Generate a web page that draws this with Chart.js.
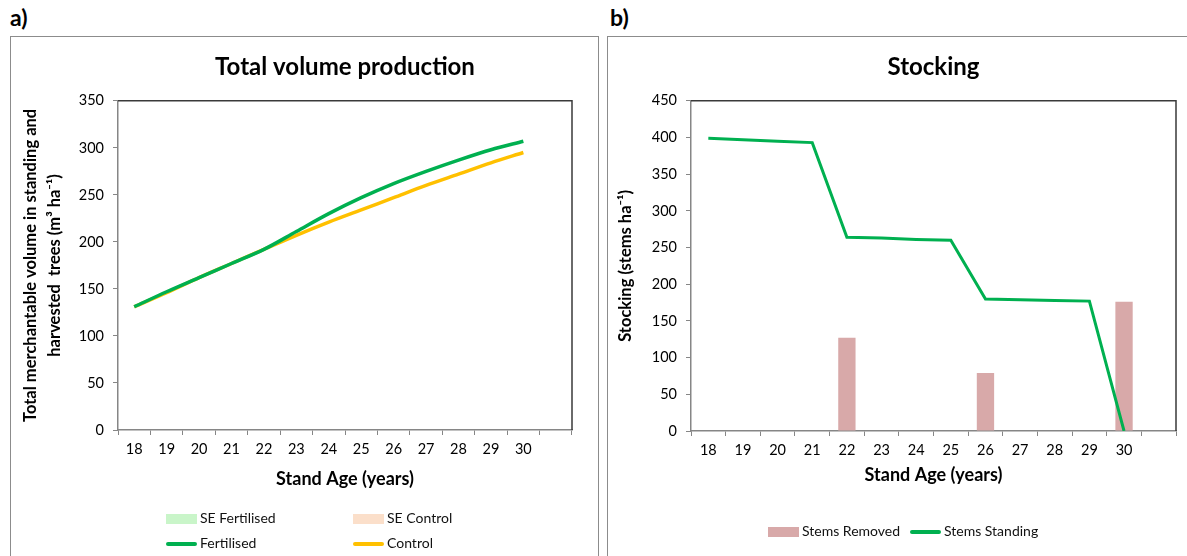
<!DOCTYPE html>
<html>
<head>
<meta charset="utf-8">
<script src="https://cdn.jsdelivr.net/npm/chart.js@4.4.0/dist/chart.umd.min.js"></script>
<style>
  body { margin: 0; background: #fff; font-family: Lato, "Open Sans", sans-serif; }
  .wrap { position: relative; width: 1187px; height: 556px; overflow: hidden; }
  .tag { position: absolute; top: 3px; font-size: 23px; font-weight: bold; color: #000; }
  .panel { position: absolute; top: 36px; height: 540px; border: 1px solid #8c8c8c; box-sizing: border-box; }
  .panel canvas { position: absolute; left: 0; top: 0; }
  .leg { position: absolute; font-size: 14px; color: #111; white-space: nowrap; line-height: 16px; }
  .leg i { display: inline-block; vertical-align: middle; margin-right: 3px; }
</style>
</head>
<body>
<div class="wrap">
  <div class="tag" style="left:10px">a)</div>
  <div class="tag" style="left:610px">b)</div>
  <div class="panel" style="left:10px; width:589px;"><canvas id="volChart"></canvas></div>
  <div class="panel" style="left:607px; width:600px;"><canvas id="stockChart"></canvas></div>
  <div id="legA"></div>
  <div id="legB"></div>
</div>
<script>
// data
const ages = ['18','19','20','21','22','23','24','25','26','27','28','29','30',''];
const fertilised = [131, 147, 162, 177, 192, 211, 230, 247, 262, 275, 287, 298, 307];
const control = [131, 146, 162, 177, 192, 207, 221, 234, 247, 260, 272, 284, 295];
const seFertilised = [0, 0, 0, 0, 0, 0, 0, 0, 0, 0, 0, 0, 0];
const seControl = [0, 0, 0, 0, 0, 0, 0, 0, 0, 0, 0, 0, 0];
const stemsStanding = [399, 397, 395, 393, 264, 263, 261, 260, 180, 179, 178, 177, 0];
const stemsRemoved = [null, null, null, null, 127, null, null, null, 79, null, null, null, 176];

const GREEN = '#00b050';
const YELLOW = '#ffc000';
const PINK = '#d8a9a9';
const FONT = 'Lato, "Open Sans", sans-serif';
const AXIS = '#868686';

Chart.defaults.font.family = FONT;
Chart.defaults.color = '#111';

// dark top/right border of the plot area
const frame = {
  id: 'frame',
  afterDraw(chart) {
    const a = chart.chartArea, c = chart.ctx;
    c.save();
    c.strokeStyle = '#3a3a3a';
    c.lineWidth = 1.5;
    c.beginPath();
    c.moveTo(a.left, a.top);
    c.lineTo(a.right, a.top);
    c.lineTo(a.right, a.bottom);
    c.stroke();
    c.restore();
  }
};

function xScale(h) {
  return {
    offset: true,
    grid: { offset: true, drawOnChartArea: false, color: AXIS, tickLength: 5, tickColor: AXIS },
    border: { color: AXIS, width: 1.5 },
    ticks: { color: '#000', font: { size: 14.5 }, padding: 6, maxRotation: 0, autoSkip: false },
    title: { display: true, text: 'Stand Age (years)', color: '#000', font: { size: 18, weight: 'bold' }, padding: { top: 0, bottom: 10 } },
    afterFit(s) { s.height = h; }
  };
}

function yScale(max, w, titleText, pad) {
  return {
    min: 0, max: max,
    grid: { drawOnChartArea: false, color: AXIS, tickLength: 5, tickColor: AXIS },
    border: { color: AXIS, width: 1.5 },
    ticks: { color: '#000', stepSize: 50, font: { size: 14.5 }, padding: 9 },
    title: { display: true, text: titleText, color: '#000', font: { size: 16.5, weight: 'bold', lineHeight: 1.5 }, padding: { top: pad, bottom: 0 } },
    afterFit(s) { s.width = w; }
  };
}

function titleOpts(text) {
  return { display: true, fullSize: false, text: text, color: '#000', font: { size: 24, weight: 'bold' }, padding: { top: 16, bottom: 19 } };
}

const volCanvas = document.getElementById('volChart');
volCanvas.width = 587; volCanvas.height = 520;
new Chart(volCanvas, {
  type: 'line',
  data: {
    labels: ages,
    datasets: [
      { label: 'SE Fertilised', data: seFertilised, borderWidth: 0, pointRadius: 0, fill: 'origin', backgroundColor: '#c9f5c9' },
      { label: 'SE Control', data: seControl, borderWidth: 0, pointRadius: 0, fill: 'origin', backgroundColor: '#fbdfca' },
      { label: 'Fertilised', data: fertilised, borderColor: GREEN, backgroundColor: GREEN, borderWidth: 3.5, pointRadius: 0, cubicInterpolationMode: 'monotone' },
      { label: 'Control', data: control, borderColor: YELLOW, backgroundColor: YELLOW, borderWidth: 3.5, pointRadius: 0, cubicInterpolationMode: 'monotone' }
    ]
  },
  options: {
    responsive: false,
    animation: false,
    layout: { padding: { left: 0, right: 26, top: 0, bottom: 57 } },
    plugins: {
      legend: { display: false },
      tooltip: { enabled: false },
      title: titleOpts('Total volume production')
    },
    scales: {
      x: xScale(70),
      y: yScale(350, 107, ['Total merchantable volume in standing and', 'harvested  trees (m\u00b3 ha\u207b\u00b9)'], 7)
    }
  },
  plugins: [frame]
});

const stockCanvas = document.getElementById('stockChart');
stockCanvas.width = 580; stockCanvas.height = 520;
new Chart(stockCanvas, {
  data: {
    labels: ages,
    datasets: [
      { type: 'line', label: 'Stems Standing', data: stemsStanding, borderColor: GREEN, backgroundColor: GREEN, borderWidth: 3, pointRadius: 0, tension: 0, order: 0 },
      { type: 'bar', label: 'Stems Removed', data: stemsRemoved, backgroundColor: PINK, categoryPercentage: 1, barPercentage: 0.5, order: 1 }
    ]
  },
  options: {
    responsive: false,
    animation: false,
    layout: { padding: { left: 0, right: 12, top: 0, bottom: 61 } },
    plugins: {
      legend: { display: false },
      tooltip: { enabled: false },
      title: titleOpts('Stocking')
    },
    scales: {
      x: xScale(65),
      y: yScale(450, 83, 'Stocking (stems ha\u207b\u00b9)', 5)
    }
  },
  plugins: [frame]
});

// legends
function legItem(parent, x, y, kind, color, text) {
  const d = document.createElement('div');
  d.className = 'leg';
  d.style.left = x + 'px';
  d.style.top = (y - 8) + 'px';
  const sw = document.createElement('i');
  sw.style.width = '31px';
  sw.style.height = kind === 'box' ? '10px' : '4px';
  if (kind === 'line') sw.style.borderRadius = '2px';
  sw.style.background = color;
  d.appendChild(sw);
  d.appendChild(document.createTextNode(text));
  parent.appendChild(d);
}
const legA = document.getElementById('legA');
legItem(legA, 166, 518, 'box', '#c9f5c9', 'SE Fertilised');
legItem(legA, 353, 518, 'box', '#fbdfca', 'SE Control');
legItem(legA, 166, 543, 'line', GREEN, 'Fertilised');
legItem(legA, 353, 543, 'line', YELLOW, 'Control');
const legB = document.getElementById('legB');
legItem(legB, 768, 531, 'box', PINK, 'Stems Removed');
legItem(legB, 910, 531, 'line', GREEN, 'Stems Standing');
</script>
</body>
</html>
